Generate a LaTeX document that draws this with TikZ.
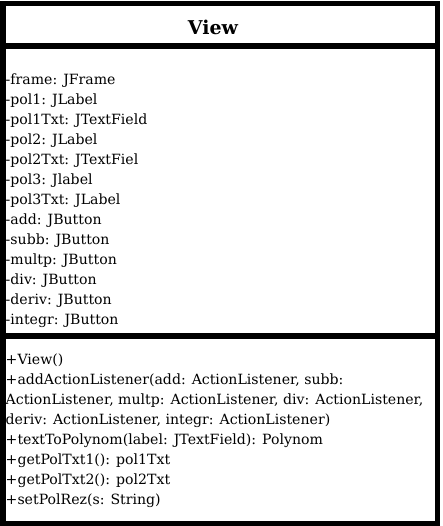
\documentclass[tikz,border=0pt]{standalone}
\usepackage{fontspec}
\setmainfont{DejaVu Serif}
\begin{document}
\begin{tikzpicture}[x=1pt,y=-1pt,
  frameline/.style={line width=5.5pt},
  classname/.style={anchor=base, inner sep=0pt, font=\bfseries\fontsize{19}{22}\selectfont},
  member/.style={anchor=base west, inner sep=0pt, align=left, font=\fontsize{14.1}{20}\selectfont}]
\useasboundingbox (0,0) rectangle (443,526);
% class box corners and compartment dividers
\coordinate (boxtl) at (2.75,3.75);
\coordinate (boxbr) at (437.25,523.25);
\coordinate (div1l) at (2.75,46);
\coordinate (div1r) at (437.25,46);
\coordinate (div2l) at (2.75,336);
\coordinate (div2r) at (437.25,336);
\draw[frameline] (boxtl) rectangle (boxbr);
\draw[frameline] (div1l) -- (div1r);
\draw[frameline] (div2l) -- (div2r);
% class name
\node[classname] (name) at (213,35) {View};
% attributes (node placed by the baseline of its last line)
\node[member] (attrs) at (5.5,324.3) {-frame: JFrame\\
-pol1: JLabel\\
-pol1Txt: JTextField\\
-pol2: JLabel\\
-pol2Txt: JTextFiel\\
-pol3: Jlabel\\
-pol3Txt: JLabel\\
-add: JButton\\
-subb: JButton\\
-multp: JButton\\
-div: JButton\\
-deriv: JButton\\
-integr: JButton};
% operations (node placed by the baseline of its last line)
\node[member] (ops) at (5.5,504.3) {+View()\\
+addActionListener(add: ActionListener, subb:\\
ActionListener, multp: ActionListener, div: ActionListener,\\
deriv: ActionListener, integr: ActionListener)\\
+textToPolynom(label: JTextField): Polynom\\
+getPolTxt1(): pol1Txt\\
+getPolTxt2(): pol2Txt\\
+setPolRez(s: String)};
\end{tikzpicture}
\end{document}
